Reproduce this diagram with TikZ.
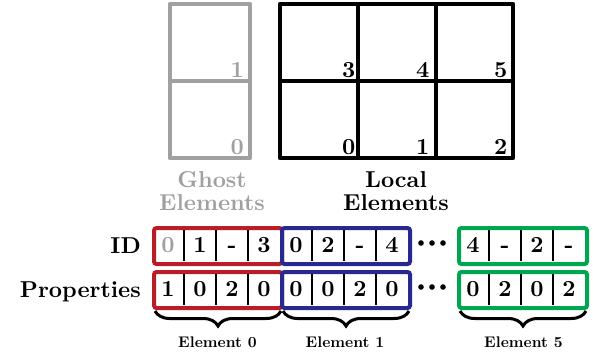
\documentclass[tikz,border=0pt]{standalone}
\usetikzlibrary{decorations.pathreplacing}
\definecolor{ghostgray}{RGB}{160,160,160}
\definecolor{redbox}{RGB}{185,30,40}
\definecolor{bluebox}{RGB}{40,40,145}
\definecolor{greenbox}{RGB}{0,165,80}
\font\bigbf="[lmroman10-bold.otf]" at 23pt
\font\smallbf="[lmroman10-bold.otf]" at 15.4pt
\newcommand\bigfont{\bigbf\baselineskip=23.5pt\relax}
\newcommand\mkrow[5]{%
  \foreach \t [count=\i from 0] in {#5} {
    \node[cell] (#1\i) at ({#2+16+32*\i},{#3+19}) {\t};
  }
  \foreach \i in {1,2,3} {\draw[divider] ([yshift=-1pt]#1\i.north west) -- ([yshift=1pt]#1\i.south west);}
  \node[rowbox=#4] (#1) at (#2,#3) {};
}
\begin{document}
\begin{tikzpicture}[x=1pt,y=-1pt,
  big/.style={font=\bigfont, inner sep=0pt},
  num/.style={big, anchor=base east},
  gridline/.style={line width=4.5pt, line join=round},
  cell/.style={big, minimum width=32pt, minimum height=34pt, text height=14.6pt, text depth=0pt},
  divider/.style={line width=1.8pt, black},
  rowbox/.style={draw=#1, line width=4pt, rounded corners=2.5pt, minimum width=128pt, minimum height=36pt, inner sep=0pt, anchor=north west},
  rowlabel/.style={big, anchor=base east},
  bracestyle/.style={decorate, decoration={brace, mirror, amplitude=15pt}, line width=3pt},
  elabel/.style={font=\smallbf, inner sep=0pt, anchor=base},
  dot/.style={fill=black}
]
\useasboundingbox (0,0) rectangle (593,354);
% ghost grid
\draw[gridline, ghostgray] (170,4) rectangle (250,158);
\draw[gridline, ghostgray] (170,81) -- (250,81);
\node[num, text=ghostgray] (g1) at (244,77) {1};
\node[num, text=ghostgray] (g0) at (244,154) {0};
% local grid
\draw[gridline] (280,4) rectangle (513,158);
\draw[gridline] (280,81) -- (513,81);
\draw[gridline] (358,4) -- (358,158);
\draw[gridline] (436,4) -- (436,158);
\node[num] (l3) at (355.5,77) {3};
\node[num] (l4) at (429.5,77) {4};
\node[num] (l5) at (507.5,77) {5};
\node[num] (l0) at (355.5,154) {0};
\node[num] (l1) at (429.5,154) {1};
\node[num] (l2) at (507.5,154) {2};
% labels
\node[big, align=center, text=ghostgray] (ghostlbl) at (212,191) {Ghost\\Elements};
\node[big, align=center] (locallbl) at (396,191) {Local\\Elements};
% rows
\node[rowlabel] (idlbl) at (141,253) {ID};
\node[rowlabel] (proplbl) at (141,297) {Properties};
\mkrow{idr}{152}{226}{redbox}{\textcolor{ghostgray}{0},1,-,3}
\mkrow{idb}{280}{226}{bluebox}{0,2,-,4}
\mkrow{idg}{457}{226}{greenbox}{4,-,2,-}
\mkrow{prr}{152}{270}{redbox}{1,0,2,0}
\mkrow{prb}{280}{270}{bluebox}{0,0,2,0}
\mkrow{prg}{457}{270}{greenbox}{0,2,0,2}
% dots
\foreach \yy in {243,287} {
  \foreach \xx in {421,432,443} {\fill[dot] (\xx,\yy) circle (2.8pt);}
}
% braces
\draw[bracestyle] ([xshift=3pt,yshift=-1pt]prr.south west) -- ([xshift=-3pt,yshift=-1pt]prr.south east);
\draw[bracestyle] ([xshift=3pt,yshift=-1pt]prb.south west) -- ([xshift=-3pt,yshift=-1pt]prb.south east);
\draw[bracestyle] ([xshift=3pt,yshift=-1pt]prg.south west) -- ([xshift=-3pt,yshift=-1pt]prg.south east);
\node[elabel] (e0) at (217.5,347) {Element 0};
\node[elabel] (e1) at (345,347) {Element 1};
\node[elabel] (e5) at (523.5,347) {Element 5};
\end{tikzpicture}
\end{document}
